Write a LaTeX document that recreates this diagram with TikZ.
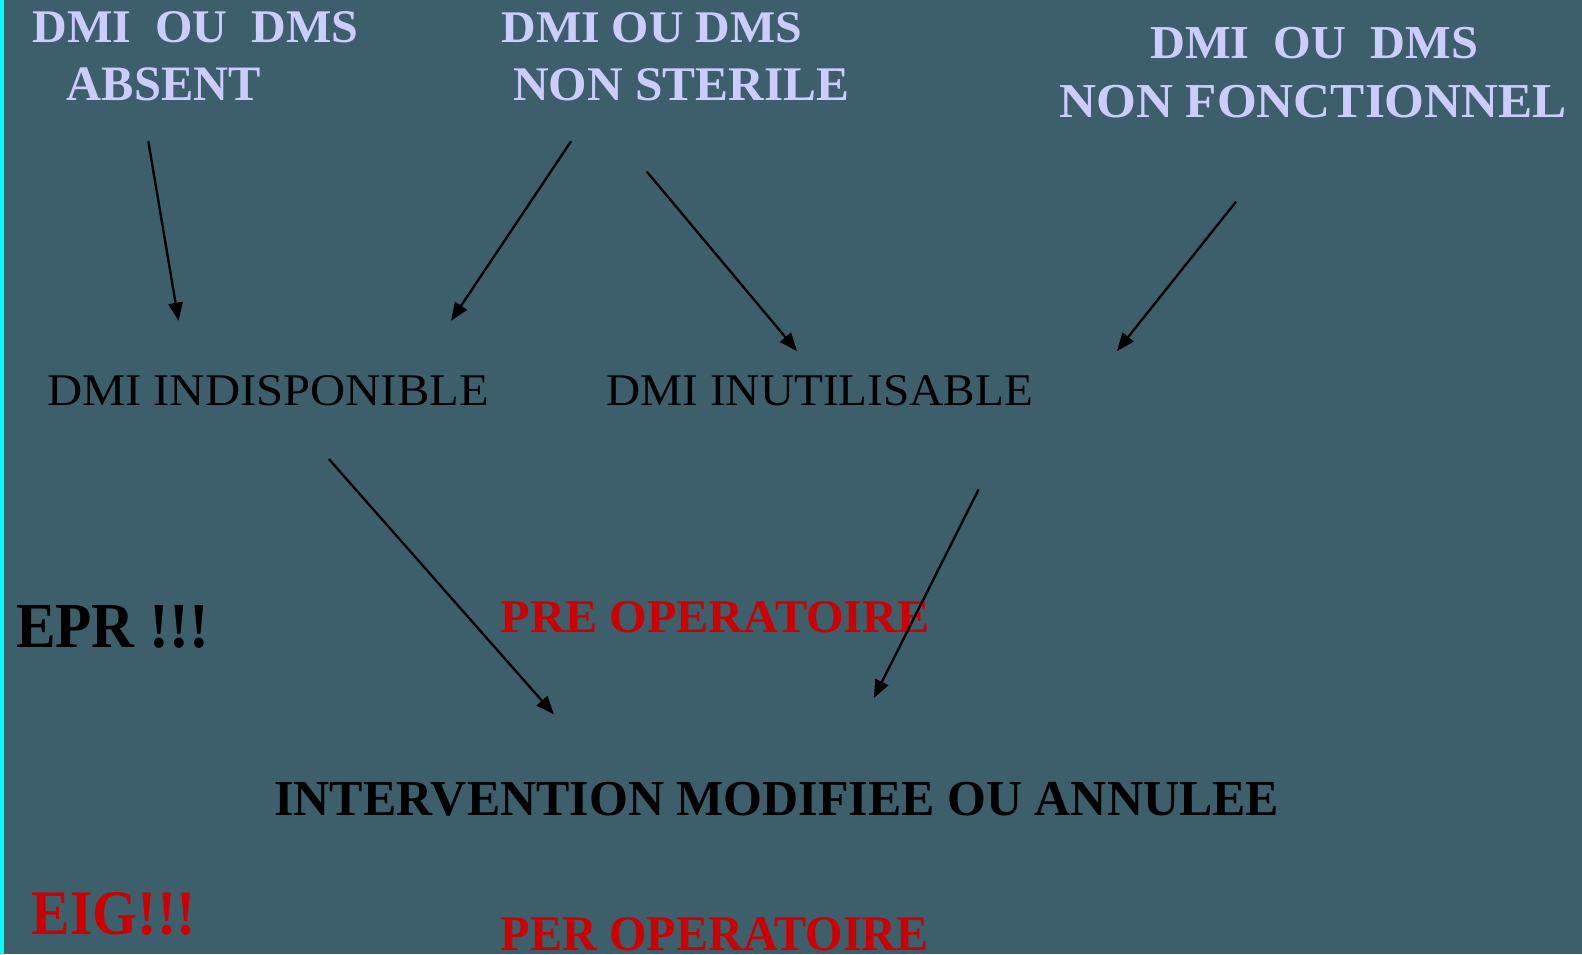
\documentclass[tikz,border=0pt]{standalone}
\usepackage{graphicx}
\usepackage{fontspec}
\setmainfont{Liberation Serif}
\usetikzlibrary{arrows.meta}
\definecolor{bg}{HTML}{3D5F6B}
\definecolor{lav}{HTML}{CCCCFF}
\definecolor{rd}{HTML}{CC0000}
\definecolor{cy}{HTML}{00FFFF}
\newcommand{\fitbox}[3]{\resizebox{#1pt}{#2pt}{#3}}
\tikzset{
  txt/.style={inner sep=0pt, outer sep=0pt, anchor=base west, font=\bfseries},
  lavtxt/.style={txt, text=lav},
  blktxt/.style={txt, text=black},
  regtxt/.style={txt, text=black, font=\mdseries},
  redtxt/.style={txt, text=rd},
  conn/.style={-{Triangle[length=18pt,width=14pt]}, line width=2.3pt, black}
}
\begin{document}
\begin{tikzpicture}[x=1pt,y=-1pt]
\fill[bg] (0,0) rectangle (1568,945.6);
\useasboundingbox (0,0) rectangle (1568,945.6);
\fill[cy] (0,0) rectangle (4,945.6);

% top texts
\node[lavtxt] (absA) at (32,42.6) {\fitbox{323}{30.7}{DMI\ \ OU\ \ DMS}};
\node[lavtxt] (absB) at (66.4,100.1) {\fitbox{192}{32.5}{ABSENT}};
\node[lavtxt] (stA) at (497,42.6) {\fitbox{298}{29.7}{DMI OU DMS}};
\node[lavtxt] (stB) at (508.5,99.6) {\fitbox{333}{31.7}{NON STERILE}};
\node[lavtxt] (fcA) at (1140,58) {\fitbox{325}{31}{DMI\ \ OU\ \ DMS}};
\node[lavtxt] (fcB) at (1050,116) {\fitbox{503}{32}{NON FONCTIONNEL}};

% middle texts
\node[regtxt] (indisp) at (46.6,402.3) {\fitbox{438}{29.7}{DMI INDISPONIBLE}};
\node[regtxt] (inutil) at (601,402.3) {\fitbox{423}{29.7}{DMI INUTILISABLE}};

\node[blktxt] (epr) at (15.9,642.2) {\fitbox{191}{41.6}{EPR !!!}};
\node[redtxt] (pre) at (496.5,627.3) {\fitbox{425}{30.7}{PRE OPERATOIRE}};
\node[blktxt] (interv) at (272,808) {\fitbox{996}{33}{INTERVENTION MODIFIEE OU ANNULEE}};
\node[redtxt] (eig) at (31.7,926.7) {\fitbox{162}{41.6}{EIG!!!}};
\node[redtxt] (per) at (496.5,942.4) {\fitbox{424}{32.7}{PER OPERATOIRE}};

% connector end points
\coordinate (a1s) at (147,140);  \coordinate (a1e) at (177,318);
\coordinate (a2s) at (566,140);  \coordinate (a2e) at (447,318);
\coordinate (a3s) at (641,170);  \coordinate (a3e) at (790,348);
\coordinate (a4s) at (1225,200); \coordinate (a4e) at (1107,348);
\coordinate (a5s) at (326,455);  \coordinate (a5e) at (549,708);
\coordinate (a6s) at (970,485);  \coordinate (a6e) at (866,692);

\draw[conn] (a1s) -- (a1e);
\draw[conn] (a2s) -- (a2e);
\draw[conn] (a3s) -- (a3e);
\draw[conn] (a4s) -- (a4e);
\draw[conn] (a5s) -- (a5e);
\draw[conn] (a6s) -- (a6e);
\end{tikzpicture}
\end{document}
